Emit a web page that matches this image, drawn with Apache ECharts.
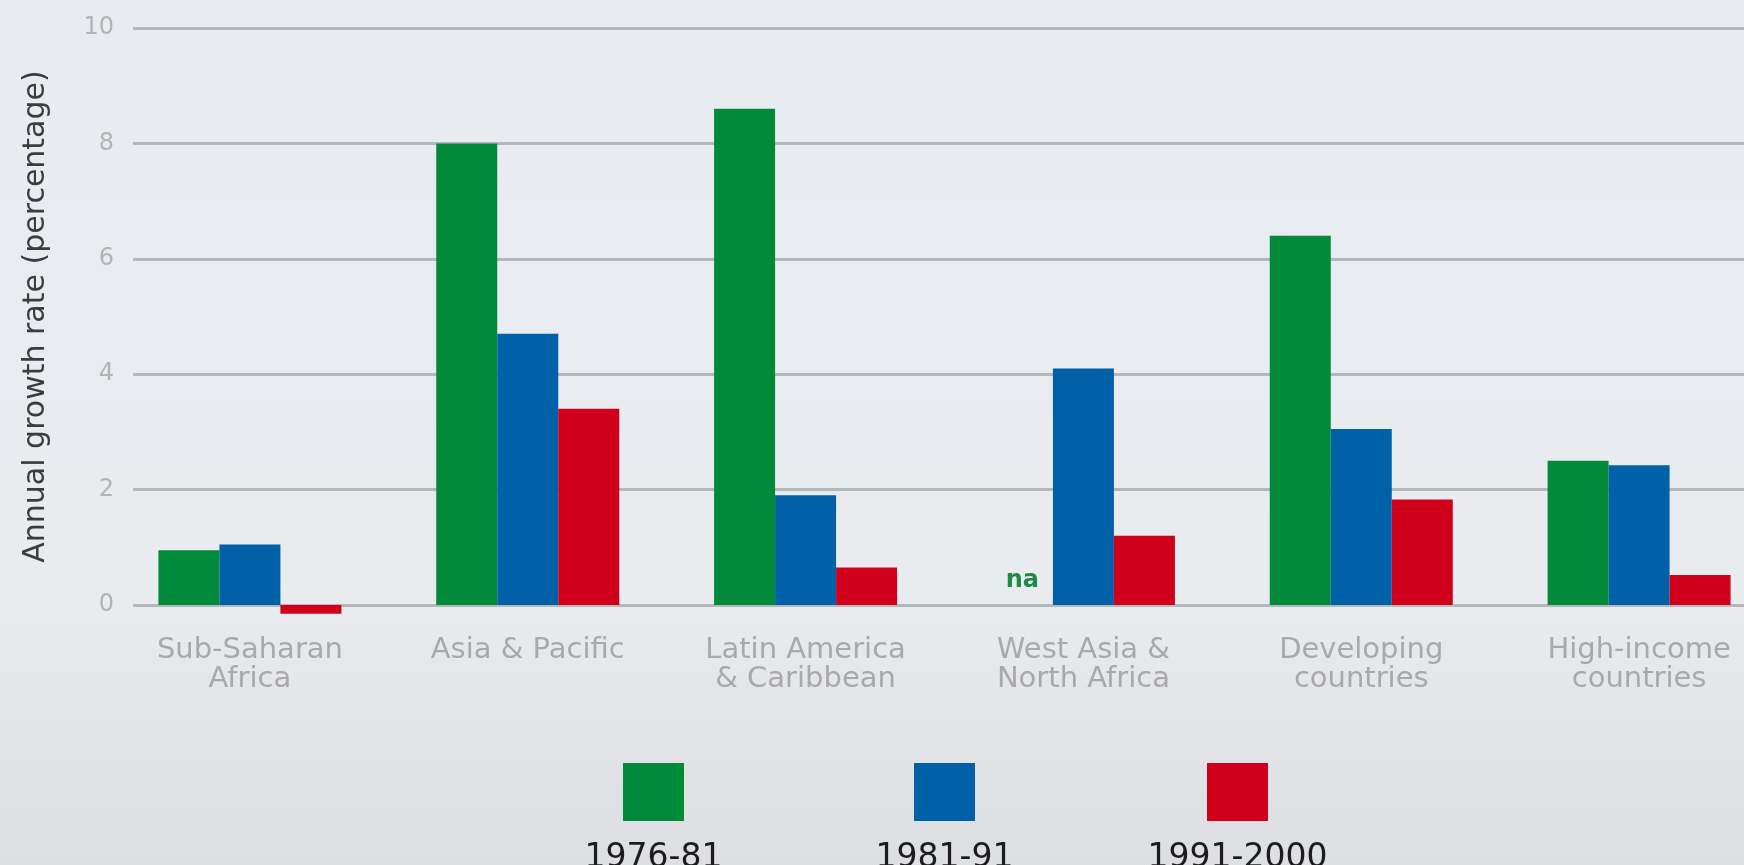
<!DOCTYPE html>
<html>
<head>
<meta charset="utf-8">
<title>Annual growth rate by region</title>
<script src="https://cdn.jsdelivr.net/npm/echarts@6/dist/echarts.min.js"></script>
<style>
  html, body { margin: 0; padding: 0; }
  #chart { width: 1744px; height: 865px; }
</style>
</head>
<body>
<div id="chart"></div>
<script>
// data
const categories = ['Sub-Saharan\nAfrica', 'Asia & Pacific', 'Latin America\n& Caribbean', 'West Asia &\nNorth Africa', 'Developing\ncountries', 'High-income\ncountries']
const periods = ['1976-81', '1981-91', '1991-2000']
const growth7681 = [0.95, 8.0, 8.6, null, 6.4, 2.5] // null = na
const growth8191 = [1.05, 4.7, 1.9, 4.1, 3.05, 2.42]
const growth9100 = [-0.15, 3.4, 0.65, 1.2, 1.83, 0.52]
const yTicks = [0, 2, 4, 6, 8, 10]

const colors = ['#008a3a', '#0061a9', '#d0001c']
const font = 'DejaVu Sans'
const legendLeft = [623, 914, 1207]

const chart = echarts.init(document.getElementById('chart'))

function barData(values) {
  return values.map(v => {
    if (v === null) {
      return {
        value: 0,
        label: {
          show: true,
          position: 'top',
          distance: 12,
          formatter: 'na',
          color: '#1f8a45',
          fontFamily: font,
          fontWeight: 'bold',
          fontSize: 24
        }
      }
    }
    return v
  })
}

const seriesValues = [growth7681, growth8191, growth9100]

chart.setOption({
  backgroundColor: new echarts.graphic.LinearGradient(0, 0, 0, 1, [
    { offset: 0, color: '#e8ebf0' },
    { offset: 0.7, color: '#e9ecef' },
    { offset: 0.85, color: '#e1e3e6' },
    { offset: 1, color: '#dddfe2' }
  ]),
  animation: false,
  grid: [
    // gridlines + y labels
    { left: 133, right: 0, top: 28, bottom: 260, containLabel: false, outerBoundsMode: 'none' },
    // bars (bands run a bit past the right edge, as in the picture)
    { left: 111, right: -34, top: 28, bottom: 260, containLabel: false, outerBoundsMode: 'none' }
  ],
  xAxis: [
    { gridIndex: 0, type: 'value', show: false, min: 0, max: 1 },
    {
      gridIndex: 1,
      type: 'category',
      data: categories,
      axisLine: { show: false },
      axisTick: { show: false },
      axisLabel: {
        color: '#a9a9a9',
        fontFamily: font,
        fontSize: 29,
        lineHeight: 29,
        margin: 31,
        interval: 0
      }
    }
  ],
  yAxis: [
    {
      gridIndex: 0,
      type: 'value',
      min: yTicks[0],
      max: yTicks[yTicks.length - 1],
      interval: yTicks[1] - yTicks[0],
      name: 'Annual growth rate (percentage)',
      nameLocation: 'middle',
      nameGap: 82,
      nameTextStyle: {
        color: '#3c3c3c',
        fontFamily: font,
        fontSize: 30
      },
      axisLine: { show: false },
      axisTick: { show: false },
      axisLabel: {
        color: '#b3b3b3',
        fontFamily: font,
        fontSize: 24,
        margin: 19
      },
      splitLine: {
        lineStyle: { color: '#b4b7bc', width: 3 }
      }
    },
    {
      gridIndex: 1,
      type: 'value',
      min: yTicks[0],
      max: yTicks[yTicks.length - 1],
      show: false,
      splitLine: { show: false }
    }
  ],
  legend: periods.map((p, i) => ({
    data: [p],
    left: legendLeft[i],
    top: 763,
    padding: 0,
    icon: 'rect',
    itemWidth: 61,
    itemHeight: 58,
    selectedMode: false,
    formatter: () => ''
  })),
  graphic: periods.map((p, i) => ({
    type: 'text',
    x: legendLeft[i] + 30.5,
    y: 858,
    style: {
      text: p,
      fill: '#1c1c1c',
      font: '33px "DejaVu Sans"',
      align: 'center',
      verticalAlign: 'middle',
      textAlign: 'center',
      textVerticalAlign: 'middle'
    }
  })),
  series: periods.map((p, i) => ({
    name: p,
    type: 'bar',
    xAxisIndex: 1,
    yAxisIndex: 1,
    data: barData(seriesValues[i]),
    barWidth: 61,
    barGap: '0%',
    clip: false,
    itemStyle: { color: colors[i] }
  }))
})
</script>
</body>
</html>
